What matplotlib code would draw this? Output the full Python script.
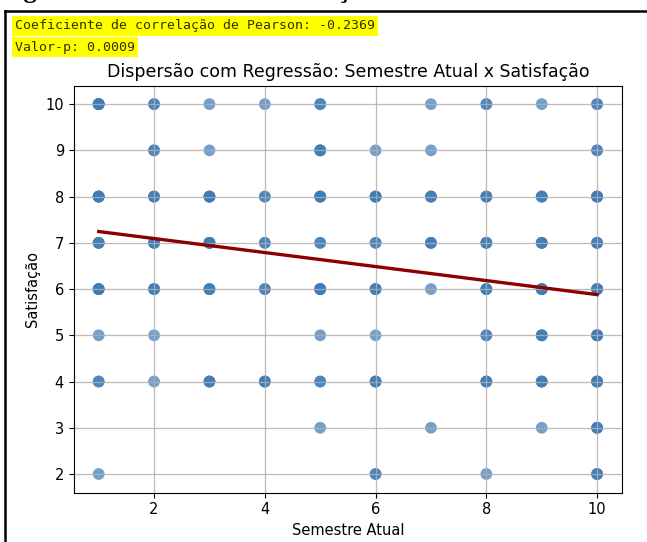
import matplotlib
matplotlib.use('Agg')
import matplotlib.pyplot as plt
from matplotlib.lines import Line2D
import numpy as np

# ─── Dados: (semestre, satisfação, nº de respostas) ──────────────────────────
semestre = [1, 1, 1, 1, 1, 1, 1,
            2, 2, 2, 2, 2, 2, 2,
            3, 3, 3, 3, 3, 3,
            4, 4, 4, 4, 4,
            5, 5, 5, 5, 5, 5, 5, 5,
            6, 6, 6, 6, 6, 6, 6,
            7, 7, 7, 7, 7, 7,
            8, 8, 8, 8, 8, 8, 8,
            9, 9, 9, 9, 9, 9, 9,
            10, 10, 10, 10, 10, 10, 10, 10, 10]
satisfacao = [10, 8, 7, 6, 5, 4, 2,
              10, 9, 8, 7, 6, 5, 4,
              10, 9, 8, 7, 6, 4,
              10, 8, 7, 6, 4,
              10, 9, 8, 7, 6, 5, 4, 3,
              9, 8, 7, 6, 5, 4, 2,
              10, 9, 8, 7, 6, 3,
              10, 8, 7, 6, 5, 4, 2,
              10, 8, 7, 6, 5, 4, 3,
              10, 9, 8, 7, 6, 5, 4, 3, 2]
contagem = [5, 5, 3, 4, 1, 2, 1,
            2, 2, 3, 3, 3, 1, 1,
            1, 1, 4, 4, 3, 3,
            1, 2, 2, 2, 3,
            2, 3, 4, 2, 4, 1, 2, 1,
            1, 4, 2, 3, 1, 3, 2,
            1, 1, 3, 3, 1, 1,
            2, 3, 3, 3, 2, 3, 1,
            1, 3, 3, 4, 3, 3, 1,
            2, 2, 4, 3, 4, 4, 4, 3, 3]

texto_pearson = "Coeficiente de correlação de Pearson: -0.2369"
texto_p = "Valor-p: 0.0009"

x = np.repeat(semestre, contagem)
y = np.repeat(satisfacao, contagem)

fig = plt.figure(figsize=(6.47, 5.42), dpi=100, facecolor='white')
ax = fig.add_axes([0.114, 0.0913, 0.8474, 0.7507])

# pontos abaixo da grade (como no padrão do matplotlib)
ax.scatter(x, y, s=72, color='#3f7cb6', alpha=0.72, edgecolors='none', zorder=1)

coef = np.polyfit(x, y, 1)
xs = np.array([x.min(), x.max()])
ax.plot(xs, np.polyval(coef, xs), color='darkred', linewidth=2.4, zorder=3)

ax.set_title("Dispersão com Regressão: Semestre Atual x Satisfação",
             fontsize=12.5, pad=6)
ax.set_xlabel("Semestre Atual", fontsize=10.5)
ax.set_ylabel("Satisfação", fontsize=10.5)
ax.tick_params(labelsize=10.5)
ax.grid(True, color='#b0b0b0', linewidth=0.9, alpha=0.85)
ax.set_axisbelow('line')

# ── Saída do console (destacada) ─────────────────────────────────────────────
hl = dict(facecolor='#ffff00', edgecolor='none', boxstyle='square,pad=0.25')
fig.text(15 / 647, 1 - 26 / 542, texto_pearson, family='DejaVu Sans Mono',
         fontsize=9.55, color='#333300', va='center', ha='left', bbox=hl)
fig.text(15 / 647, 1 - 47 / 542, texto_p, family='DejaVu Sans Mono',
         fontsize=9.55, color='#333300', va='center', ha='left', bbox=hl)

# ── Legenda cortada do documento e moldura ──────────────────────────────────
fig.text(0.0, 1 + 2 / 542, "Figura 14 – Análise de correlação",
         family='Liberation Serif', fontweight='bold', fontsize=19,
         va='baseline', ha='left')
fig.add_artist(Line2D([5 / 647, 5 / 647], [0, 1 - 11 / 542],
               transform=fig.transFigure, color='black', linewidth=1.8))
fig.add_artist(Line2D([5 / 647, 1], [1 - 11 / 542, 1 - 11 / 542],
               transform=fig.transFigure, color='black', linewidth=1.8))

fig.savefig('out.png', dpi=100, facecolor='white')
